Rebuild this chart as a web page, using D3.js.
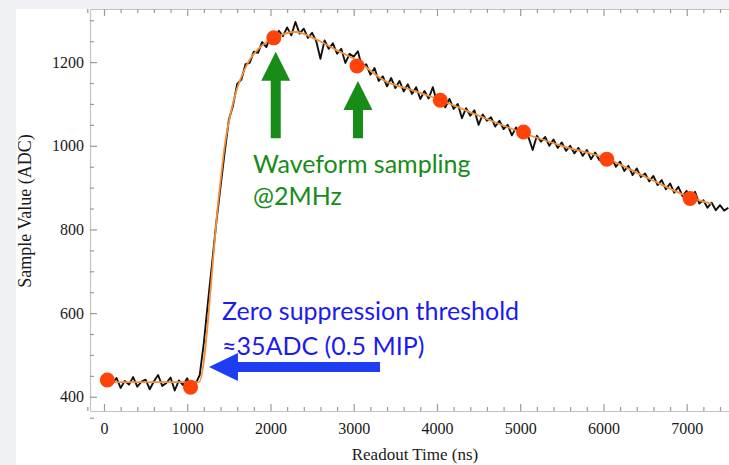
<!DOCTYPE html>
<html>
<head>
<meta charset="utf-8">
<script src="https://cdn.jsdelivr.net/npm/d3@7"></script>
<style>
  html, body { margin: 0; padding: 0; background: #eef0f4; }
  svg { display: block; }
  .axis .domain { stroke: #c4c4c4; stroke-width: 1.2px; }
  .axis .tick line { stroke: #9a9a9a; stroke-width: 1.2px; }
  .axis .tick text {
    font-family: "Liberation Serif", "DejaVu Serif", serif;
    font-size: 16px; fill: #1a1a1a;
  }
  .title {
    font-family: "Liberation Serif", "DejaVu Serif", serif;
    font-size: 18px; fill: #1a1a1a;
  }
  .note { font-family: Lato, "Open Sans", sans-serif; }
</style>
</head>
<body>
<svg id="chart" width="729" height="465"></svg>
<script>
/* global d3 */

// Raw waveform, one reading every 50 ns from 100 ns on (ADC counts)
var traceStart = 100
  , traceStep = 50
  , traceValues = [
      432, 445, 421, 438, 429, 447, 424, 436, 441, 418,
      437, 452, 426, 433, 446, 415, 439, 428, 444, 420,
      431, 452, 530, 628, 722, 818, 902, 985, 1062, 1096,
      1148, 1158, 1195, 1198, 1225, 1222, 1248, 1236, 1262, 1250,
      1275, 1262, 1283, 1264, 1296, 1268, 1280, 1258, 1270, 1250,
      1208, 1252, 1232, 1245, 1220, 1232, 1198, 1220, 1213, 1226,
      1188, 1195, 1170, 1186, 1155, 1166, 1142, 1162, 1138, 1155,
      1130, 1147, 1124, 1140, 1112, 1131, 1113, 1140, 1105, 1116,
      1092, 1112, 1088, 1100, 1066, 1090, 1072, 1085, 1050, 1075,
      1060, 1068, 1046, 1060, 1040, 1050, 1025, 1044, 1026, 1038,
      1020, 990, 1024, 1010, 1021, 1000, 1015, 995, 1008, 988,
      1000, 982, 995, 976, 990, 968, 984, 966, 978, 960,
      970, 950, 962, 940, 952, 930, 946, 925, 934, 915,
      928, 906, 918, 896, 910, 888, 902, 880, 892, 868,
      890, 862, 870, 852, 864, 846, 858, 845, 852
    ]
  // Smooth pulse-shape fit (orange)
  , fitTimes  = [40, 1140, 1380, 1450, 1560, 1733, 1900, 2045, 2300, 2563, 2800,
                 3045, 3357, 3700, 4043, 4500, 5042, 5500, 6053, 6500, 7052, 7300]
  , fitValues = [435, 435, 880, 1000, 1110, 1200, 1240, 1258, 1272, 1253, 1228,
                 1203, 1157, 1133, 1109, 1072, 1030, 1000, 968, 926, 876, 861]
  // 2 MHz samples (red dots)
  , sampleTimes  = [40, 1040, 2040, 3040, 4040, 5040, 6040, 7040]
  , sampleValues = [440, 423, 1258, 1191, 1109, 1033, 968, 874]
  // Axis ticks
  , xTicks = [0, 1000, 2000, 3000, 4000, 5000, 6000, 7000]
  , yTicks = [400, 600, 800, 1000, 1200]
;

var svg = d3.select("#chart")
  , W = 729, H = 465
  , box = { left: 90, top: 9, right: 729, bottom: 411 }
  , x = d3.scaleLinear().domain([-168, 7508]).range([box.left, box.right])
  , y = d3.scaleLinear().domain([366, 1327]).range([box.bottom, box.top])
;

// Slide background: grey margin, white panel
svg.append("rect").attr("width", W).attr("height", H).attr("fill", "#eef0f4");
svg.append("rect").attr("x", 16).attr("y", 9)
    .attr("width", W - 16).attr("height", H - 9).attr("fill", "#fff");

svg.append("clipPath").attr("id", "plot-clip")
  .append("rect")
    .attr("x", box.left).attr("y", box.top)
    .attr("width", box.right - box.left).attr("height", box.bottom - box.top);

/*
** Axes (ROOT style: ticks point into the frame)
*/
var xMinor = d3.range(-200, 7600, 200).filter(function(d) { return d % 1000; })
  , yMinor = d3.range(350, 1350, 50).filter(function(d) { return d % 200; })
;

function axisPair(g, axis, majors, minors, labels) {
    g.attr("class", "axis");
    g.call(axis.tickValues(majors).tickSize(-7).tickSizeOuter(0)
        .tickFormat(labels ? d3.format("d") : ""));
    g.append("g").call(axis.tickValues(minors).tickSize(-4).tickFormat(""))
      .select(".domain").remove();
} // axisPair()

svg.append("g").attr("transform", "translate(0," + box.bottom + ")")
    .call(axisPair, d3.axisBottom(x).tickPadding(12), xTicks, xMinor, true);
svg.append("g").attr("transform", "translate(0," + box.top + ")")
    .call(axisPair, d3.axisTop(x), xTicks, xMinor, false);
svg.append("g").attr("transform", "translate(" + box.left + ",0)")
    .call(axisPair, d3.axisLeft(y).tickPadding(6), yTicks, yMinor, true);

// x title sits right at the bottom edge, as on the slide
svg.append("text").attr("class", "title")
    .attr("x", 415).attr("y", 460).attr("text-anchor", "middle")
    .attr("font-size", 17)
    .style("font-size", "17px")
    .text("Readout Time (ns)");
svg.append("text").attr("class", "title")
    .attr("transform", "translate(31,211) rotate(-90)")
    .attr("text-anchor", "middle")
    .text("Sample Value (ADC)");

/*
** Data
*/
var plot = svg.append("g").attr("clip-path", "url(#plot-clip)");

plot.append("path")
    .datum(traceValues)
    .attr("fill", "none")
    .attr("stroke", "#111")
    .attr("stroke-width", 1.9)
    .attr("stroke-linejoin", "round")
    .attr("d", d3.line()
        .x(function(d, i) { return x(traceStart + i * traceStep); })
        .y(function(d) { return y(d); }));

plot.append("path")
    .datum(d3.zip(fitTimes, fitValues))
    .attr("fill", "none")
    .attr("stroke", "#f5903a")
    .attr("stroke-width", 1.8)
    .attr("d", d3.line()
        .curve(d3.curveMonotoneX)
        .x(function(d) { return x(d[0]); })
        .y(function(d) { return y(d[1]); }));

plot.selectAll(".sample")
    .data(d3.zip(sampleTimes, sampleValues))
  .enter().append("circle")
    .attr("class", "sample")
    .attr("cx", function(d) { return x(d[0]); })
    .attr("cy", function(d) { return y(d[1]); })
    .attr("r", 7.5)
    .attr("fill", "#ff4309");

/*
** Annotations
*/
// Block arrow from (x0,y0) to tip (x1,y1)
function arrow(x0, y0, x1, y1, shaft, headW, headL) {
    var dx = x1 - x0, dy = y1 - y0
      , len = Math.sqrt(dx * dx + dy * dy)
      , ux = dx / len, uy = dy / len
      , px = -uy, py = ux
      , bx = x1 - ux * headL, by = y1 - uy * headL
      , s = shaft / 2, h = headW / 2
    ;
    return "M" + [
        [x0 + px * s, y0 + py * s], [bx + px * s, by + py * s],
        [bx + px * h, by + py * h], [x1, y1],
        [bx - px * h, by - py * h], [bx - px * s, by - py * s],
        [x0 - px * s, y0 - py * s]
      ].join("L") + "Z";
} // arrow()

var green = "#178c17", blue = "#1b1bf0";

svg.append("path").attr("fill", green)
    .attr("d", arrow(x(2063), y(1018), x(2063), y(1225), 10, 29, 29));
svg.append("path").attr("fill", green)
    .attr("d", arrow(x(3051), y(1018), x(3051), y(1155), 10, 29, 29));

svg.append("text").attr("class", "note")
    .attr("x", 253).attr("y", 173)
    .attr("fill", green).attr("font-size", 25)
    .text("Waveform sampling");
svg.append("text").attr("class", "note")
    .attr("x", 253).attr("y", 205)
    .attr("fill", green).attr("font-size", 25)
    .text("@2MHz");

svg.append("text").attr("class", "note")
    .attr("x", 222).attr("y", 320)
    .attr("fill", blue).attr("font-size", 25)
    .text("Zero suppression threshold");
svg.append("text").attr("class", "note")
    .attr("x", 222).attr("y", 355)
    .attr("fill", blue).attr("font-size", 25)
    .text("\u224835ADC (0.5 MIP)");

svg.append("path").attr("fill", "#1f3df2")
    .attr("d", arrow(x(3316), y(471), x(1261), y(471), 10, 28, 29));
</script>
</body>
</html>
